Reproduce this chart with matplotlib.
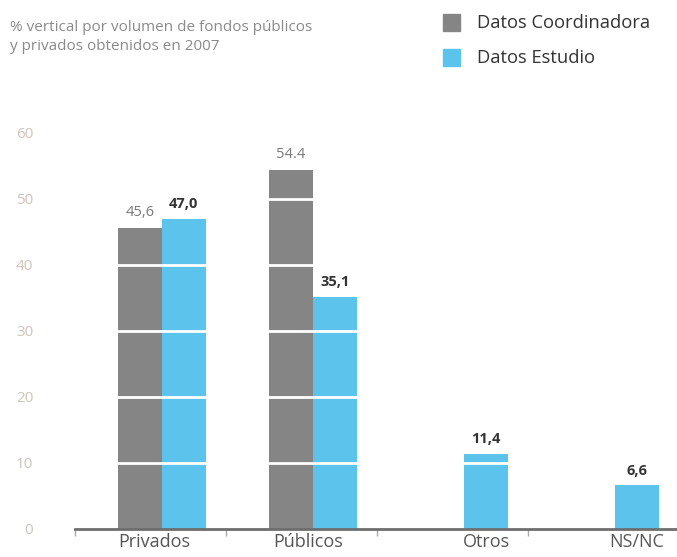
import matplotlib
matplotlib.use("Agg")
from matplotlib import pyplot as plt
from matplotlib.patches import Rectangle
import numpy as np

# data
categorias = ['Privados', 'Públicos', 'Otros', 'NS/NC']
coordinadora = [45.6, 54.4, None, None]
estudio = [47.0, 35.1, 11.4, 6.6]
etiq_coord = ['45,6', '54.4', None, None]
etiq_estudio = ['47,0', '35,1', '11,4', '6,6']

gris = '#858585'
azul = '#5BC3EC'

plt.rcParams['font.family'] = ['Open Sans', 'DejaVu Sans']

W, H = 677, 557
fig = plt.figure(figsize=(W / 100, H / 100), dpi=100)
ax = fig.add_axes([75 / W, 1 - 529 / H, 1 - 75 / W, (529 - 133) / H])

x = np.arange(len(categorias))
bw = 0.29
off = 0.145

for i in range(len(categorias)):
    if coordinadora[i] is not None:
        ax.bar(x[i] - off, coordinadora[i], bw, color=gris, zorder=2)
        ax.text(x[i] - off, coordinadora[i] + 1.2, etiq_coord[i], ha='center', va='bottom',
                fontsize=10.5, color='#7a7a7a', zorder=4)
    ax.bar(x[i] + off, estudio[i], bw, color=azul, zorder=2)
    ax.text(x[i] + off, estudio[i] + 1.2, etiq_estudio[i], ha='center', va='bottom',
            fontsize=10.5, color='#333333', fontweight='bold', zorder=4)

ax.set_xlim(-0.576, 3.41)
ax.set_ylim(0, 60)

# white grid lines over the bars
for y in range(10, 60, 10):
    ax.axhline(y, color='white', lw=2, zorder=3)

for s in ['top', 'right', 'left']:
    ax.spines[s].set_visible(False)
ax.spines['bottom'].set_color('#6e6e6e')
ax.spines['bottom'].set_linewidth(2)
ax.spines['bottom'].set_zorder(5)

ax.set_yticks(range(0, 70, 10))
ax.set_yticklabels([str(v) for v in range(0, 70, 10)], fontsize=11, color='#cfc4ba')
ax.tick_params(axis='y', length=0, pad=30)

pos_lbl = [x[0] - 0.05, x[1] - 0.03, x[2] + off, x[3] + off]
ax.set_xticks(pos_lbl)
ax.set_xticklabels(categorias, fontsize=13, color='#555555')
ax.tick_params(axis='x', length=0, pad=3)
ax.set_xticks([-0.576, 0.424, 1.424, 2.424], minor=True)
ax.tick_params(axis='x', which='minor', length=5, width=1, color='#aaaaaa', direction='out')

# title
fig.text(10 / W, 1 - 37 / H, '% vertical por volumen de fondos públicos\ny privados obtenidos en 2007',
         fontsize=11, color='#8a8a8a', va='center', ha='left', linespacing=1.3)

# legend
fig.add_artist(Rectangle((443 / W, 1 - 31 / H), 17 / W, 17 / H, transform=fig.transFigure,
                         color=gris))
fig.add_artist(Rectangle((443 / W, 1 - 66 / H), 17 / W, 17 / H, transform=fig.transFigure,
                         color=azul))
fig.text(477 / W, 1 - 23 / H, 'Datos Coordinadora', fontsize=13.2, color='#333333', va='center')
fig.text(477 / W, 1 - 58 / H, 'Datos Estudio', fontsize=13.2, color='#333333', va='center')

fig.savefig('out.png', dpi=100)
